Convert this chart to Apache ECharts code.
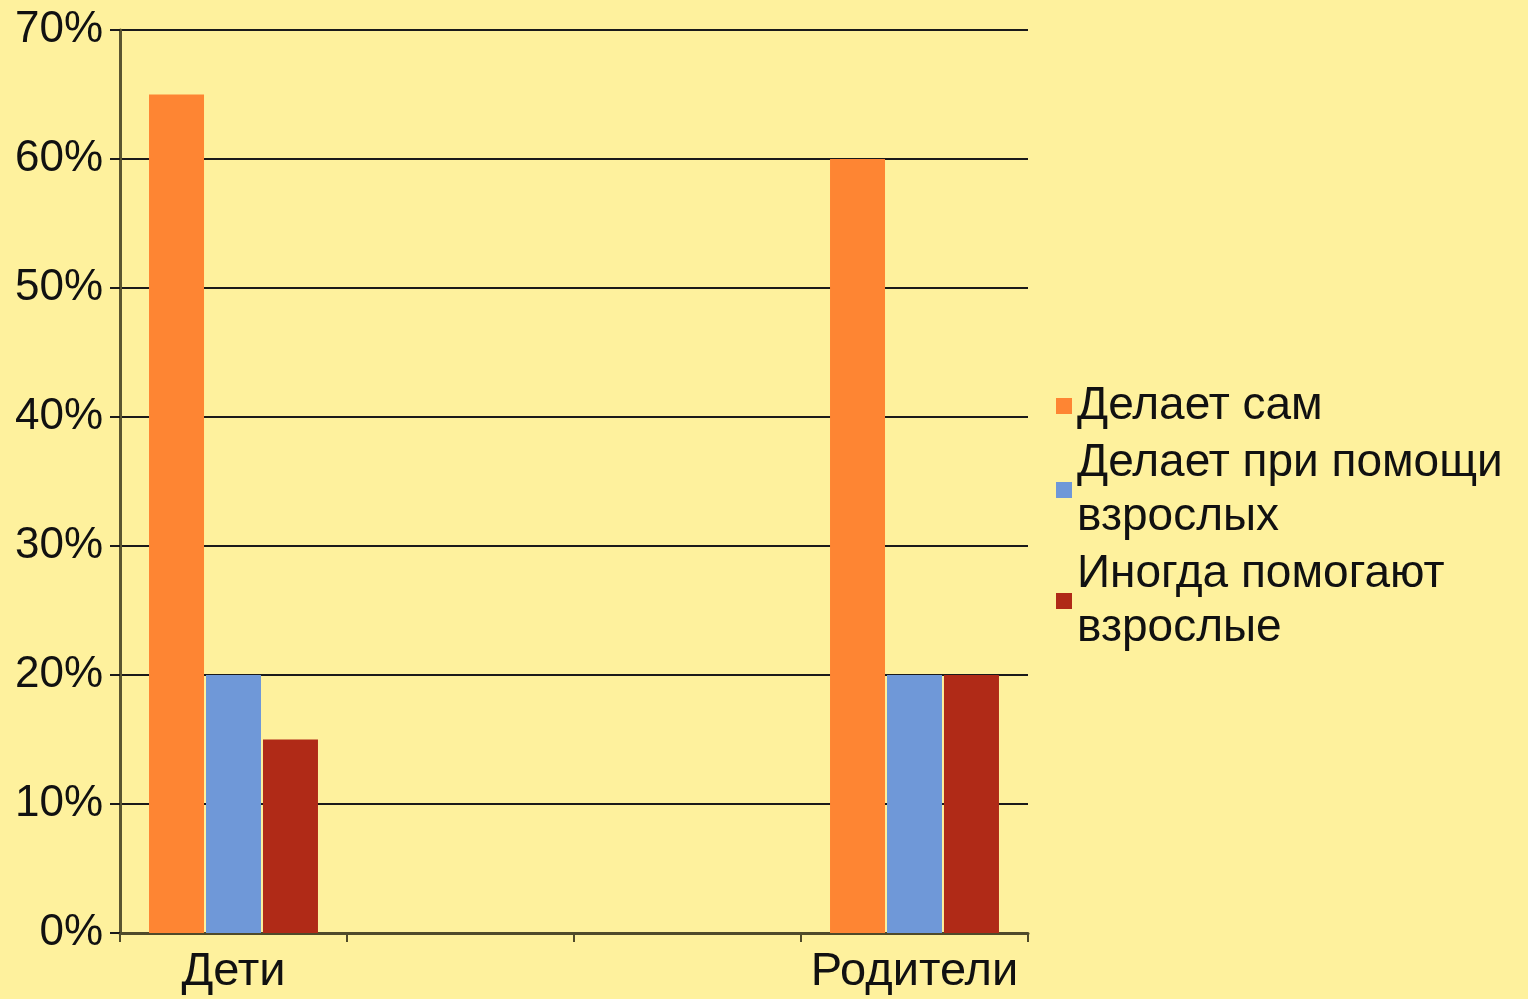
<!DOCTYPE html>
<html>
<head>
<meta charset="utf-8">
<script src="https://cdn.jsdelivr.net/npm/echarts@6/dist/echarts.min.js"></script>
<style>
  html, body { margin: 0; padding: 0; background: #fef19d; }
  #chart { width: 1528px; height: 999px; }
</style>
</head>
<body>
<div id="chart"></div>
<script>
// categories (two empty slots between the groups, as in the source chart)
const categories = ['Дети', '', '', 'Родители']
const seriesNames = ['Делает сам', 'Делает при помощи взрослых', 'Иногда помогают взрослые']
const legendLabels = ['Делает сам', 'Делает при помощи\nвзрослых', 'Иногда помогают\nвзрослые']
const selfValues = [65, null, null, 60]
const helpValues = [20, null, null, 20]
const sometimesValues = [15, null, null, 20]
const yTicks = [0, 10, 20, 30, 40, 50, 60, 70]

const colors = ['#fe8533', '#6f98d8', '#b02a17']
const font = '"Liberation Sans", Arial, sans-serif'

const chart = echarts.init(document.getElementById('chart'), null, { renderer: 'canvas' })

const bar = (name, data, color) => ({
  name,
  type: 'bar',
  data,
  barWidth: 55,
  barGap: '3.6%',
  itemStyle: { color },
  z: 3,
})

chart.setOption({
  animation: false,
  backgroundColor: '#fef19d',
  grid: { left: 120, right: 500, top: 30, bottom: 66, containLabel: false },
  legend: {
    orient: 'vertical',
    left: 1051,
    top: 374,
    itemWidth: 16,
    itemHeight: 16,
    itemGap: 3,
    icon: 'rect',
    data: seriesNames,
    formatter: (name) => legendLabels[seriesNames.indexOf(name)],
    textStyle: { fontFamily: font, fontSize: 46, lineHeight: 54, color: '#111' },
  },
  xAxis: {
    type: 'category',
    data: categories,
    boundaryGap: true,
    axisLine: { lineStyle: { color: '#4f4a2a', width: 3 } },
    axisTick: { show: true, length: 9, lineStyle: { color: '#4f4a2a', width: 2 } },
    axisLabel: { fontFamily: font, fontSize: 47, color: '#111', margin: 16, interval: 0 },
  },
  yAxis: {
    type: 'value',
    min: yTicks[0],
    max: yTicks[yTicks.length - 1],
    interval: 10,
    axisLine: { show: true, lineStyle: { color: '#5a5530', width: 3 } },
    axisTick: { show: true, length: 10, lineStyle: { color: '#1a1a1a', width: 2 } },
    splitLine: { show: true, lineStyle: { color: '#1a1a1a', width: 2 } },
    axisLabel: {
      fontFamily: font,
      fontSize: 44,
      color: '#111',
      margin: 17,
      formatter: (v) => v + '%',
    },
  },
  series: [
    bar(seriesNames[0], selfValues, colors[0]),
    bar(seriesNames[1], helpValues, colors[1]),
    bar(seriesNames[2], sometimesValues, colors[2]),
  ],
})
</script>
</body>
</html>
